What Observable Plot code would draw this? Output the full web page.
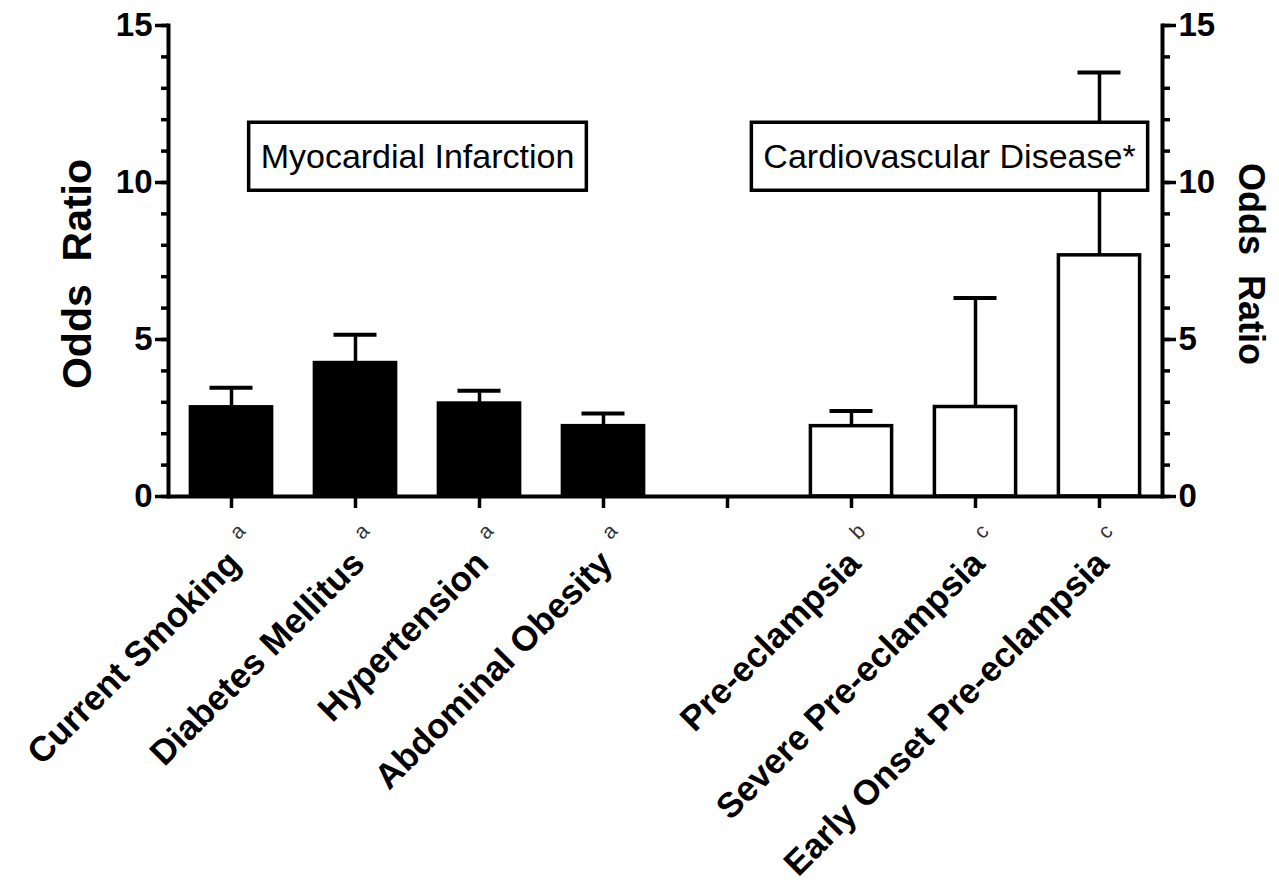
<!DOCTYPE html>
<html>
<head>
<meta charset="utf-8">
<script src="https://cdn.jsdelivr.net/npm/d3@7"></script>
<script src="https://cdn.jsdelivr.net/npm/@observablehq/plot@0.6"></script>
<style>
  html, body { margin: 0; padding: 0; background: #fff; }
  svg text { white-space: pre; }
</style>
</head>
<body>
<div id="chart"></div>
<script>
// Risk factors, grouped by outcome
const riskFactors = [
  "Current Smoking", "Diabetes Mellitus", "Hypertension", "Abdominal Obesity",
  "Pre-eclampsia", "Severe Pre-eclampsia", "Early Onset Pre-eclampsia"
];
const outcomes = [
  "Myocardial Infarction", "Myocardial Infarction", "Myocardial Infarction", "Myocardial Infarction",
  "Cardiovascular Disease", "Cardiovascular Disease", "Cardiovascular Disease"
];
// Odds ratios and upper 95% confidence limits
const oddsRatios  = [2.84, 4.25, 2.96, 2.24, 2.24, 2.85, 7.68];
const upperLimits = [3.46, 5.15, 3.37, 2.64, 2.72, 6.32, 13.5];
// Source footnote letters
const footnoteMarks = ["a", "a", "a", "a", "b", "c", "c"];
// Category slots, with an empty slot separating the two outcome groups
const xSlots = [...riskFactors.slice(0, 4), " ", ...riskFactors.slice(4)];
const majorTicks = [0, 5, 10, 15];
const minorTicks = [0, 1, 2, 3, 4, 5, 6, 7, 8, 9, 10, 11, 12, 13, 14, 15];
const panelLabels = ["Myocardial Infarction", "Cardiovascular Disease*"];
const axisTitle = "Odds  Ratio";

const rows = riskFactors.map((name, i) => ({
  name, outcome: outcomes[i], or: oddsRatios[i], upper: upperLimits[i], note: footnoteMarks[i]
}));

const FONT = "'Liberation Sans', Arial, Helvetica, sans-serif";
const LW = 3.5;

const chart = Plot.plot({
  width: 1279,
  height: 882,
  marginLeft: 168,
  marginRight: 117,
  marginTop: 25,
  marginBottom: 386,
  x: {type: "band", domain: xSlots, padding: 0, axis: null},
  y: {domain: [0, 15], axis: null},
  style: {fontFamily: FONT, background: "white", color: "black", overflow: "visible"},
  marks: [
    // error bars (upper limit only)
    Plot.ruleX(rows, {x: "name", y1: "or", y2: "upper", stroke: "black", strokeWidth: LW}),
    Plot.tickY(rows, {x: "name", y: "upper", stroke: "black", strokeWidth: 4, insetLeft: 40.5, insetRight: 40.5}),
    // bars: filled for myocardial infarction, open for cardiovascular disease
    Plot.barY(rows, {filter: d => d.outcome === "Myocardial Infarction", x: "name", y: "or",
      fill: "black", stroke: "black", strokeWidth: LW, insetLeft: 21.4, insetRight: 21.4}),
    Plot.barY(rows, {filter: d => d.outcome !== "Myocardial Infarction", x: "name", y: "or",
      fill: "white", stroke: "black", strokeWidth: LW, insetLeft: 21.4, insetRight: 21.4}),

    // left axis
    Plot.axisY({anchor: "left", ticks: minorTicks, tickSize: 7, tickFormat: () => "", strokeWidth: LW, label: null}),
    Plot.axisY({anchor: "left", ticks: majorTicks, tickSize: 13, tickPadding: 3, tickFormat: d => String(d),
      fontSize: 33, fontWeight: "bold", strokeWidth: LW, label: null}),
    // right axis
    Plot.axisY({anchor: "right", ticks: minorTicks, tickSize: 7, tickFormat: () => "", strokeWidth: LW, label: null}),
    Plot.axisY({anchor: "right", ticks: majorTicks, tickSize: 13, tickPadding: 3, tickFormat: d => String(d),
      fontSize: 33, fontWeight: "bold", strokeWidth: LW, label: null}),
    Plot.frame({anchor: "left", strokeWidth: 4}),
    Plot.frame({anchor: "right", strokeWidth: 4}),
    Plot.ruleY([0], {strokeWidth: 4}),
    // category ticks
    Plot.axisX({ticks: xSlots, tickSize: 12, tickFormat: () => "", strokeWidth: LW, label: null}),

    // axis titles
    Plot.text([axisTitle], {frameAnchor: "left", textAnchor: "middle", rotate: -90, dx: -91, dy: 13,
      fontSize: 41, fontWeight: "bold"}),
    Plot.text([axisTitle], {frameAnchor: "right", textAnchor: "middle", rotate: 90, dx: 88, dy: 3,
      fontSize: 36, fontWeight: "bold"}),

    // category labels and footnote letters
    Plot.text(rows, {x: "name", text: "name", frameAnchor: "bottom", rotate: -45,
      textAnchor: "end", lineAnchor: "middle", dx: 3, dy: 61, fontSize: 35, fontWeight: "bold"}),
    Plot.text(rows, {x: "name", text: "note", frameAnchor: "bottom", rotate: -45,
      textAnchor: "middle", lineAnchor: "middle", dx: 6, dy: 35, fontSize: 21, fill: "#333"}),

    // panel labels
    Plot.text([panelLabels[0]], {x: () => riskFactors[1], y: () => 10.8, dx: 62,
      fontSize: 34, lineAnchor: "middle"}),
    Plot.text([panelLabels[1]], {x: () => riskFactors[5], y: () => 10.8, dx: -26,
      fontSize: 34, lineAnchor: "middle"})
  ]
});

document.getElementById("chart").append(chart);

// boxed outline around each panel label, sized from the rendered text
Array.from(chart.querySelectorAll("text"))
  .filter(t => panelLabels.includes(t.textContent))
  .forEach(t => {
    const b = t.getBBox();
    const cy = b.y + b.height / 2;
    const r = document.createElementNS("http://www.w3.org/2000/svg", "rect");
    r.setAttribute("x", b.x - 12);
    r.setAttribute("y", cy - 34);
    r.setAttribute("width", b.width + 24);
    r.setAttribute("height", 68);
    r.setAttribute("fill", "white");
    r.setAttribute("stroke", "black");
    r.setAttribute("stroke-width", 3.5);
    const tf = t.getAttribute("transform");
    if (tf) r.setAttribute("transform", tf);
    t.parentNode.insertBefore(r, t);
  });
</script>
</body>
</html>
